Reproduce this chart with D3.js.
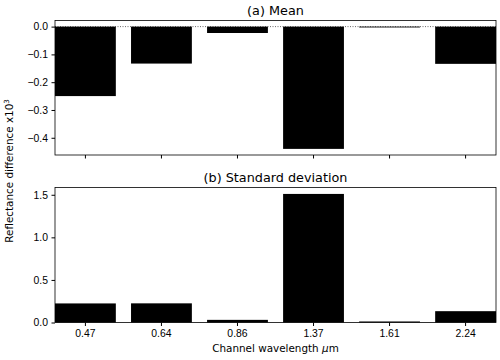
<!DOCTYPE html>
<html>
<head>
<meta charset="utf-8">
<script src="https://cdn.jsdelivr.net/npm/d3@7"></script>
<style>
  body { margin: 0; background: #fff; }
  svg { font-family: "DejaVu Sans", sans-serif; }
</style>
</head>
<body>
<div id="chart"></div>
<script>
const channels = ['0.47', '0.64', '0.86', '1.37', '1.61', '2.24'];
const meanDiff = [-0.250, -0.133, -0.023, -0.440, -0.003, -0.134];
const stdDiff = [0.224, 0.225, 0.031, 1.510, 0.012, 0.133];
const meanTicks = [0.0, -0.1, -0.2, -0.3, -0.4];
const stdTicks = [0.0, 0.5, 1.0, 1.5];

const W = 500, H = 360;
const left = 55, right = 496;

const svg = d3.select('#chart')
  .append('svg')
  .attr('width', W)
  .attr('height', H);

const x = d3.scaleBand()
  .domain(channels)
  .range([left, right])
  .paddingInner(0.2)
  .paddingOuter(0);

function panel(values, top, bottom, domain, ticks, title, showXLabels) {
  const y = d3.scaleLinear().domain(domain).range([bottom, top]);
  const g = svg.append('g');

  g.selectAll('rect.bar')
    .data(values)
    .enter()
    .append('rect')
    .attr('class', 'bar')
    .attr('x', (d, i) => x(channels[i]))
    .attr('width', x.bandwidth())
    .attr('y', d => Math.min(y(d), y(0)))
    .attr('height', d => Math.abs(y(d) - y(0)))
    .attr('fill', '#000');

  // Y axis
  const ya = g.append('g')
    .attr('transform', `translate(${left},0)`)
    .call(d3.axisLeft(y).tickValues(ticks).tickSize(3.5).tickPadding(3.5));
  ya.select('.domain').remove();
  ya.selectAll('text').style('font-size', '10.4px').attr('fill', '#000')
    .text(d => d3.format('.1f')(d).replace('-', '\u2212'));
  ya.selectAll('line').attr('stroke', '#000');

  // X axis
  const xa = g.append('g')
    .attr('transform', `translate(0,${bottom})`)
    .call(d3.axisBottom(x).tickSize(3.5).tickPadding(3.5));
  xa.select('.domain').remove();
  xa.selectAll('line').attr('stroke', '#000');
  xa.selectAll('text').style('font-size', '10.4px').attr('fill', '#000');
  if (!showXLabels) xa.selectAll('text').remove();

  // frame
  g.append('rect')
    .attr('x', left)
    .attr('y', top)
    .attr('width', right - left)
    .attr('height', bottom - top)
    .attr('fill', 'none')
    .attr('stroke', '#000')
    .attr('stroke-width', 0.8);

  g.append('text')
    .attr('x', (left + right) / 2)
    .attr('y', top - 5.5)
    .attr('text-anchor', 'middle')
    .style('font-size', '12.8px')
    .text(title);

  return y;
}

const yMean = panel(meanDiff, 20.5, 155, [-0.462, 0.022], meanTicks, '(a) Mean', false);

// dotted zero line
svg.append('line')
  .attr('x1', left)
  .attr('x2', right)
  .attr('y1', yMean(0))
  .attr('y2', yMean(0))
  .attr('stroke', '#000')
  .attr('stroke-width', 0.6)
  .attr('stroke-dasharray', '1,1.5');

panel(stdDiff, 187.5, 322.5, [0, 1.5855], stdTicks, '(b) Standard deviation', true);

svg.append('text')
  .attr('transform', 'translate(13,171) rotate(-90)')
  .attr('text-anchor', 'middle')
  .style('font-size', '10.4px')
  .html('Reflectance difference x10<tspan dy="-4" font-size="7px">3</tspan>');

svg.append('text')
  .attr('x', (left + right) / 2)
  .attr('y', 352)
  .attr('text-anchor', 'middle')
  .style('font-size', '10.4px')
  .html('Channel wavelength <tspan font-style="italic">\u03bc</tspan>m');
</script>
</body>
</html>
